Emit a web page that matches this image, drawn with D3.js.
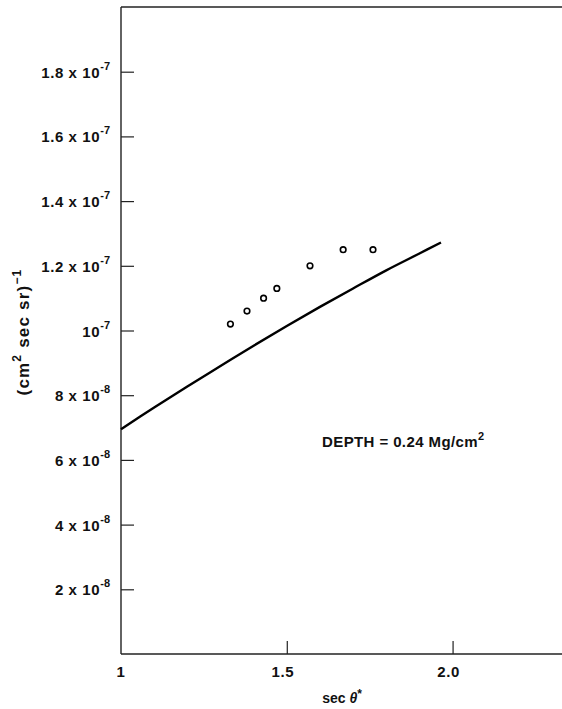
<!DOCTYPE html>
<html>
<head>
<meta charset="utf-8">
<script src="https://cdn.jsdelivr.net/npm/d3@7/dist/d3.min.js"></script>
<style>
  html, body { margin: 0; padding: 0; background: #fff; }
  svg { display: block; }
  text { font-family: "Liberation Sans", Arial, sans-serif; font-weight: bold; fill: #111; }
</style>
</head>
<body>
<svg id="chart" width="562" height="709"></svg>
<script>
// Calculated flux versus sec(theta*)
const curveSec  = [1.0, 1.1, 1.2, 1.3, 1.4, 1.5, 1.6, 1.7, 1.8, 1.9, 1.965];
const curveFlux = [0.695e-7, 0.762e-7, 0.827e-7, 0.890e-7, 0.953e-7, 1.014e-7, 1.073e-7, 1.130e-7, 1.186e-7, 1.238e-7, 1.272e-7];

// Measured points
const pointSec  = [1.33, 1.38, 1.43, 1.47, 1.57, 1.67, 1.76];
const pointFlux = [1.02e-7, 1.06e-7, 1.10e-7, 1.13e-7, 1.20e-7, 1.25e-7, 1.25e-7];

// Axis ticks
const xTickValues = [1, 1.5, 2.0];
const xTickLabels = ["1", "1.5", "2.0"];
const yTickValues = [2e-8, 4e-8, 6e-8, 8e-8, 1e-7, 1.2e-7, 1.4e-7, 1.6e-7, 1.8e-7];
const yTickMantissa = ["2 x ", "4 x ", "6 x ", "8 x ", "", "1.2 x ", "1.4 x ", "1.6 x ", "1.8 x "];
const yTickExponent = ["-8", "-8", "-8", "-8", "-7", "-7", "-7", "-7", "-7"];

const svg = d3.select("#chart");
const W = 562;

const x = d3.scaleLinear().domain([1, 2.33]).range([121, 562]);
const y = d3.scaleLinear().domain([0, 2e-7]).range([654, 7]);

const axisColor = "#222";

// Frame: left axis, top border, bottom axis
svg.append("line").attr("x1", x(1)).attr("x2", x(1)).attr("y1", y(2e-7)).attr("y2", y(0))
  .attr("stroke", axisColor).attr("stroke-width", 1.4);
svg.append("line").attr("x1", x(1)).attr("x2", W).attr("y1", y(2e-7)).attr("y2", y(2e-7))
  .attr("stroke", axisColor).attr("stroke-width", 1.4);
svg.append("line").attr("x1", x(1)).attr("x2", W).attr("y1", y(0)).attr("y2", y(0))
  .attr("stroke", axisColor).attr("stroke-width", 1.4);

// Inward ticks via d3 axes (domain path hidden, frame drawn above)
const yAxis = d3.axisLeft(y).tickValues(yTickValues).tickSize(-13).tickFormat("");
svg.append("g").attr("transform", `translate(${x(1)},0)`).call(yAxis)
  .call(g => g.select(".domain").remove())
  .call(g => g.selectAll(".tick line").attr("stroke", axisColor).attr("stroke-width", 1.2));

const xAxis = d3.axisBottom(x).tickValues(xTickValues.slice(1)).tickSize(-13).tickFormat("");
svg.append("g").attr("transform", `translate(0,${y(0)})`).call(xAxis)
  .call(g => g.select(".domain").remove())
  .call(g => g.selectAll(".tick line").attr("stroke", axisColor).attr("stroke-width", 1.2));

// Y tick labels with power-of-ten superscripts
const yl = svg.append("g").selectAll("text").data(yTickValues).join("text")
  .attr("x", 110).attr("y", d => y(d) + 6)
  .attr("text-anchor", "end").attr("font-size", 15).attr("letter-spacing", 0.6);
yl.append("tspan").text((d, i) => yTickMantissa[i] + "10");
yl.append("tspan").attr("dy", -8).attr("font-size", 11).attr("letter-spacing", 0).text((d, i) => yTickExponent[i]);

// X tick labels
svg.append("g").selectAll("text").data(xTickValues).join("text")
  .attr("x", (d, i) => x(d) + (i === 0 ? 0 : -4)).attr("y", 677)
  .attr("text-anchor", "middle").attr("font-size", 15).attr("letter-spacing", 0.6)
  .text((d, i) => xTickLabels[i]);

// X axis title
const xt = svg.append("text").attr("x", 342).attr("y", 703).attr("text-anchor", "middle").attr("font-size", 14);
xt.append("tspan").text("sec ");
xt.append("tspan").attr("font-style", "italic").text("θ");
xt.append("tspan").attr("dy", -5).attr("font-size", 12).text("*");

// Y axis title
const yt = svg.append("text").attr("transform", "translate(29,332) rotate(-90)")
  .attr("text-anchor", "middle").attr("font-size", 17).attr("letter-spacing", 1.2);
yt.append("tspan").text("(cm");
yt.append("tspan").attr("dy", -8).attr("font-size", 12).text("2");
yt.append("tspan").attr("dy", 8).text(" sec sr)");
yt.append("tspan").attr("dy", -8).attr("font-size", 12).text("−1");

// Calculated curve
const curveData = curveSec.map((s, i) => [s, curveFlux[i]]);
svg.append("path").datum(curveData)
  .attr("fill", "none").attr("stroke", "#000").attr("stroke-width", 2.4)
  .attr("d", d3.line().x(d => x(d[0])).y(d => y(d[1])).curve(d3.curveCatmullRom));

// Measured points as open circles
svg.append("g").selectAll("circle").data(pointSec).join("circle")
  .attr("cx", d => x(d)).attr("cy", (d, i) => y(pointFlux[i])).attr("r", 2.8)
  .attr("fill", "none").attr("stroke", "#000").attr("stroke-width", 1.6);

// Depth annotation
const ann = svg.append("text").attr("x", 322).attr("y", 447).attr("font-size", 15).attr("letter-spacing", 0.4);
ann.append("tspan").text("DEPTH = 0.24 Mg/cm");
ann.append("tspan").attr("dy", -7).attr("font-size", 11).text("2");
</script>
</body>
</html>
